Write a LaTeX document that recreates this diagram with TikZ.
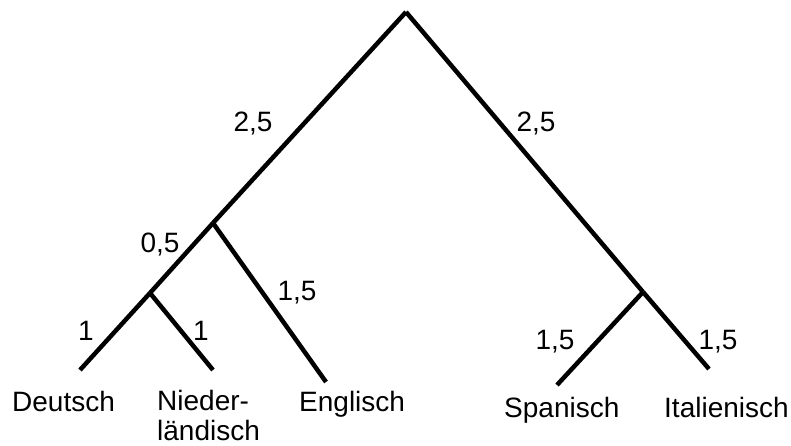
\documentclass[tikz,border=0pt]{standalone}
\usepackage{fontspec}
\setmainfont{Liberation Sans}
\usetikzlibrary{positioning}

\begin{document}
\begin{tikzpicture}[
    x=1pt, y=-1pt,
    branch/.style={line width=4.5pt},
    lang/.style={font=\fontsize{28}{30}\selectfont, inner sep=0pt, align=left, anchor=base west},
    dist/.style={font=\fontsize{28}{30}\selectfont, inner sep=0pt, anchor=base},
  ]
    \useasboundingbox (0,0) rectangle (791,446);

    % Tree points
    \coordinate (root) at (406,12);
    \coordinate (germ) at (213,223);
    \coordinate (dn)   at (150,293);
    \coordinate (rom)  at (643,292);
    \coordinate (de)   at (80,370);
    \coordinate (nl)   at (213,370);
    \coordinate (en)   at (326,382);
    \coordinate (es)   at (557,385);
    \coordinate (it)   at (709,369);

    % Branches
    \draw[branch] (root) -- (germ);
    \draw[branch] (root) -- (rom);
    \draw[branch] (germ) -- (dn);
    \draw[branch] (germ) -- (en);
    \draw[branch] (dn) -- (de);
    \draw[branch] (dn) -- (nl);
    \draw[branch] (rom) -- (es);
    \draw[branch] (rom) -- (it);

    % Languages
    \node[lang] (deLab) at (12,411)  {Deutsch};
    \node[lang, anchor=north west] (nlLab) at (157,390) {Nieder-\\ländisch};
    \node[lang] (enLab) at (299,411) {Englisch};
    \node[lang] (esLab) at (504,417) {Spanisch};
    \node[lang] (itLab) at (664,417) {Italienisch};

    % Distances
    \node[dist] (dGermL) at (253,132) {2,5};
    \node[dist] (dRomL)  at (536,132) {2,5};
    \node[dist] (dDn)    at (160,252) {0,5};
    \node[dist] (dEn)    at (297,300) {1,5};
    \node[dist] (dDe)    at (86,340)  {1};
    \node[dist] (dNl)    at (201,340) {1};
    \node[dist] (dEs)    at (555,349) {1,5};
    \node[dist] (dIt)    at (718,349) {1,5};
  \end{tikzpicture}
\end{document}
